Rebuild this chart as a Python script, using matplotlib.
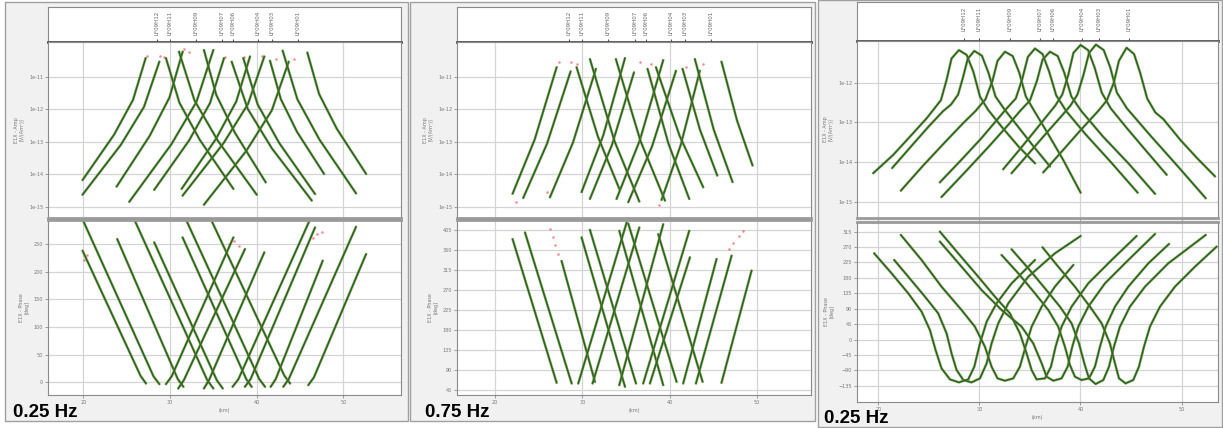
import numpy as np
import matplotlib
matplotlib.use("Agg")
import matplotlib.pyplot as plt
from matplotlib.patches import Rectangle

# ---- data ----
receivers = [28.5, 30.0, 33.0, 36.0, 37.3, 40.2, 41.8, 44.8]
rx_names = ["LF09H12", "LF09H11", "LF09H09", "LF09H07", "LF09H06", "LF09H04", "LF09H03", "LF09H01"]
freq_labels = ["0.25 Hz", "0.75 Hz", "0.25 Hz"]

# panel 1 (0.25 Hz), amplitude branches, log10 values
p1_amp_left_x = [[19.92, 23.56, 25.74, 27.19], [19.92, 24.35, 27.0, 28.77], [23.85, 27.66, 29.94, 31.46],
                 [25.31, 30.16, 33.06, 35.0], [28.19, 32.21, 34.62, 36.23], [31.35, 35.29, 37.65, 39.23],
                 [31.46, 36.17, 39.0, 40.88], [33.92, 38.81, 41.74, 43.69]]
p1_amp_left_y = [[-14.18, -12.78, -11.71, -10.43], [-14.63, -13.09, -11.93, -10.54], [-14.38, -12.82, -11.64, -10.23],
                 [-14.85, -13.08, -11.77, -10.18], [-14.48, -12.96, -11.81, -10.43], [-14.45, -12.92, -11.76, -10.38],
                 [-14.66, -13.05, -11.84, -10.38], [-14.94, -13.28, -12.04, -10.54]]
p1_amp_right_x = [[29.54, 31.09, 33.43, 37.31], [31.04, 32.83, 35.52, 40.0], [33.92, 35.34, 37.48, 41.04],
                  [37.12, 38.97, 41.74, 46.35], [38.46, 40.11, 42.6, 46.73], [41.54, 42.79, 44.66, 47.77],
                  [43.0, 44.69, 47.23, 51.46], [45.85, 47.2, 49.24, 52.62]]
p1_amp_right_y = [[-10.43, -11.80, -12.94, -14.45], [-10.23, -11.73, -12.97, -14.63], [-10.18, -11.56, -12.72, -14.25],
                  [-10.54, -11.99, -13.20, -14.81], [-10.43, -11.85, -13.04, -14.61], [-10.51, -11.69, -12.70, -13.99],
                  [-10.2, -11.69, -12.93, -14.59], [-10.26, -11.53, -12.60, -13.99]]
p1_amp_extra_x = [27.4, 28.9, 29.3, 31.6, 32.2, 36.4, 38.5, 40.6, 42.2, 44.3]
p1_amp_extra_y = [-10.35, -10.35, -10.40, -10.15, -10.25, -10.40, -10.40, -10.35, -10.45, -10.45]
p1_ph_left_x = [[19.92, 26.6, 27.23], [20.0, 28.1, 28.77], [23.92, 30.9, 31.54], [25.96, 34.3, 35.0],
                [28.19, 35.4, 36.08], [31.46, 38.8, 39.42], [31.92, 40.3, 40.96], [34.81, 43.2, 43.85]]
p1_ph_left_y = [[238.0, 12.0, -1.8], [292.0, 11.0, -3.0], [259.0, 6.0, -7.8], [292.0, 4.0, -10.8],
                [253.0, 4.0, -10.8], [262.0, 6.0, -7.8], [292.0, 6.0, -7.8], [292.0, 12.0, -1.8]]
p1_ph_right_x = [[29.54, 30.2, 37.31], [30.96, 31.6, 38.65], [33.92, 34.5, 40.88], [37.23, 37.9, 46.08],
                 [38.65, 39.3, 46.73], [41.62, 42.2, 47.62], [43.08, 43.7, 51.46], [45.96, 46.6, 52.62]]
p1_ph_right_y = [[-3.0, 11.0, 262.0], [-10.8, 4.0, 241.0], [-10.8, 4.0, 235.0], [-7.8, 6.0, 292.0],
                 [-7.8, 6.0, 280.0], [-7.8, 6.0, 220.0], [-7.8, 6.0, 281.2], [-4.8, 9.0, 232.0]]
p1_ph_extra_x = [20.1, 20.4, 36.8, 37.4, 38.0, 46.5, 47.0, 47.5]
p1_ph_extra_y = [222.0, 230.0, 250.0, 256.0, 246.0, 262.0, 268.0, 272.0]

# panel 2 (0.75 Hz)
p2_amp_left_x = [[22.02, 24.54, 27.06], [23.24, 25.95, 28.66], [26.30, 28.93, 31.56], [29.92, 32.41, 34.89],
                 [30.88, 33.40, 35.92], [33.93, 36.60, 39.27], [35.27, 38.00, 40.73], [39.08, 41.28, 43.47]]
p2_amp_left_y = [[-14.60, -12.94, -10.71], [-14.73, -13.07, -10.84], [-14.71, -13.03, -10.76], [-14.55, -12.80, -10.43],
                 [-14.76, -13.10, -10.87], [-14.76, -12.95, -10.49], [-14.86, -13.14, -10.82], [-14.79, -13.10, -10.82]]
p2_amp_right_x = [[29.35, 31.80, 34.24], [30.88, 33.70, 36.53], [33.85, 36.66, 39.47], [37.48, 39.87, 42.25],
                  [38.44, 41.15, 43.85], [41.49, 43.48, 45.46], [42.90, 45.06, 47.21], [45.95, 47.73, 49.50]]
p2_amp_right_y = [[-10.71, -12.85, -14.45], [-10.46, -12.99, -14.84], [-10.46, -12.97, -14.81], [-10.76, -13.06, -14.76],
                  [-10.71, -12.82, -14.40], [-10.76, -12.63, -14.04], [-10.46, -12.63, -14.24], [-10.54, -12.35, -13.73]]
p2_amp_extra_x = [22.4, 26.0, 27.3, 28.7, 29.4, 36.6, 37.9, 38.8, 41.9, 43.8]
p2_amp_extra_y = [-14.85, -14.55, -10.55, -10.55, -10.60, -10.55, -10.60, -14.95, -10.70, -10.60]
p2_ph_left_x = [[22.02, 27.06], [23.44, 28.78], [27.63, 31.45], [29.92, 34.89],
                [30.88, 36.15], [34.24, 39.27], [35.27, 40.80], [38.70, 43.78]]
p2_ph_left_y = [[384.2, 62.1], [399.0, 60.6], [335.2, 64.3], [387.9, 53.2],
                [405.0, 60.6], [402.8, 56.9], [419.1, 64.3], [395.3, 64.3]]
p2_ph_right_x = [[29.54, 35.08], [31.18, 36.53], [34.24, 39.27], [36.98, 42.25],
                 [37.75, 42.33], [41.56, 45.38], [43.02, 47.10], [45.95, 49.39]]
p2_ph_right_y = [[60.6, 421.4], [60.6, 410.2], [56.9, 417.6], [60.6, 402.8],
                 [60.6, 343.3], [60.6, 339.5], [60.6, 347.0], [62.1, 313.5]]
# observed points left beyond the model ends (0.75 Hz phase)
p2_ph_extra_x = [26.3, 26.6, 26.9, 27.2, 36.0, 46.8, 47.3, 48.0, 48.4]
p2_ph_extra_y = [408.0, 390.0, 372.0, 352.0, 380.0, 362.0, 375.0, 392.0, 402.0]

# panel 3 (0.25 Hz, second survey), one curve per receiver
p3_amp_x = [
    [19.51, 21.48, 23.46, 24.78, 25.43, 26.20, 26.76, 27.25, 27.98, 28.74, 29.40, 30.06, 30.88, 32.20, 33.88, 35.50],
    [21.38, 23.2, 25.0, 26.4, 27.2, 27.9, 28.4, 28.85, 29.50, 30.25, 30.9, 31.6, 32.5, 33.8, 35.4, 36.98],
    [22.24, 24.4, 26.6, 28.4, 29.6, 30.6, 31.3, 31.8, 32.53, 33.3, 33.95, 34.6, 35.4, 36.7, 38.3, 40.01],
    [26.10, 28.2, 30.2, 31.8, 32.7, 33.6, 34.25, 34.8, 35.50, 36.25, 36.9, 37.6, 38.6, 40.5, 43.0, 45.65],
    [26.26, 28.6, 30.9, 32.9, 34.0, 35.0, 35.7, 36.25, 36.98, 37.75, 38.4, 39.1, 40.1, 42.2, 44.8, 47.37],
    [32.36, 34.0, 35.6, 36.8, 37.5, 38.2, 38.8, 39.3, 40.01, 40.75, 41.4, 42.1, 43.0, 44.6, 46.5, 48.52],
    [33.19, 35.0, 36.8, 38.2, 39.0, 39.7, 40.3, 40.85, 41.53, 42.3, 42.95, 43.6, 44.6, 46.8, 49.6, 52.38],
    [36.32, 38.2, 40.0, 41.8, 42.6, 43.3, 43.8, 44.56, 45.3, 45.9, 46.6, 47.4, 48.2, 49.9, 51.6, 53.30],
]
p3_amp_y = [
    [-14.28, -13.82, -13.27, -12.90, -12.69, -12.44, -11.93, -11.39, -11.18, -11.30, -11.72, -12.35, -12.69, -13.11, -13.61, -14.03],
    [-14.15, -13.62, -13.10, -12.72, -12.55, -12.30, -11.85, -11.40, -11.20, -11.32, -11.75, -12.35, -12.68, -13.10, -13.62, -14.11],
    [-14.72, -14.10, -13.50, -13.02, -12.72, -12.42, -11.95, -11.45, -11.22, -11.33, -11.75, -12.35, -12.70, -13.25, -13.95, -14.77],
    [-14.51, -13.95, -13.40, -12.92, -12.65, -12.40, -11.90, -11.35, -11.14, -11.28, -11.72, -12.32, -12.72, -13.30, -14.00, -14.77],
    [-14.88, -14.25, -13.62, -13.05, -12.72, -12.45, -11.95, -11.42, -11.22, -11.33, -11.75, -12.35, -12.72, -13.35, -14.05, -14.80],
    [-14.18, -13.68, -13.18, -12.80, -12.58, -12.30, -11.80, -11.25, -11.05, -11.18, -11.62, -12.25, -12.65, -13.15, -13.72, -14.32],
    [-14.28, -13.75, -13.22, -12.82, -12.58, -12.30, -11.80, -11.25, -11.04, -11.18, -11.62, -12.25, -12.65, -13.30, -14.10, -14.91],
    [-14.26, -13.72, -13.20, -12.70, -12.45, -12.00, -11.45, -11.12, -11.28, -11.75, -12.40, -12.75, -12.92, -13.45, -13.92, -14.36],
]
p3_ph_x = [
    [19.60, 21.32, 22.97, 24.29, 25.11, 25.67, 26.26, 27.09, 27.98, 28.90, 29.50, 30.06, 30.72, 31.70, 33.19, 35.50],
    [21.58, 22.97, 24.62, 25.93, 26.76, 27.25, 27.75, 28.41, 29.23, 30.06, 30.72, 31.21, 31.87, 32.86, 34.84, 37.47, 40.01],
    [22.24, 24.29, 26.26, 28.24, 29.56, 30.55, 31.21, 31.80, 32.53, 33.35, 34.01, 34.57, 35.17, 36.16, 37.47, 39.29],
    [26.10, 27.91, 29.89, 31.54, 33.02, 34.01, 34.67, 35.17, 35.66, 36.49, 37.08, 37.54, 38.13, 39.12, 40.77, 43.08, 45.55],
    [26.10, 28.24, 30.22, 32.20, 34.18, 35.33, 36.16, 36.65, 37.31, 38.13, 38.73, 39.19, 39.78, 40.77, 42.42, 44.73, 47.37],
    [32.20, 33.85, 35.50, 36.82, 37.80, 38.46, 38.96, 39.45, 40.11, 40.84, 41.43, 41.93, 42.49, 43.41, 44.73, 46.71, 48.75],
    [33.19, 34.84, 36.49, 37.97, 39.12, 39.85, 40.38, 40.84, 41.50, 42.26, 42.82, 43.31, 43.90, 44.89, 46.38, 48.68, 52.38],
    [36.25, 37.80, 39.45, 40.94, 42.09, 42.91, 43.41, 43.81, 44.46, 45.22, 45.78, 46.28, 46.87, 47.86, 49.34, 51.32, 53.46],
]
p3_ph_y = [
    [251.7, 193.3, 134.8, 81.2, 27.7, -30.8, -84.3, -116.5, -125.2, -116.5, -79.5, -11.3, 52.0, 105.6, 164.0, 232.2],
    [232.2, 183.5, 125.1, 76.4, 17.9, -40.5, -89.2, -118.4, -125.2, -113.6, -69.7, -11.3, 47.2, 105.6, 183.5, 251.7, 302.3],
    [305.3, 232.2, 154.3, 86.1, 37.4, -21.0, -79.5, -113.6, -120.4, -113.6, -79.5, -21.0, 37.4, 95.9, 154.3, 217.6],
    [315.0, 251.7, 183.5, 125.1, 76.4, 17.9, -40.5, -89.2, -116.5, -113.6, -79.5, -21.0, 37.4, 95.9, 164.0, 232.2, 302.3],
    [285.8, 212.7, 144.6, 86.1, 37.4, -11.3, -69.7, -108.7, -120.4, -113.6, -79.5, -21.0, 37.4, 95.9, 164.0, 232.2, 308.2],
    [246.8, 193.3, 134.8, 86.1, 37.4, -21.0, -74.6, -108.7, -118.4, -113.6, -79.5, -21.0, 37.4, 95.9, 154.3, 222.5, 279.0],
    [263.4, 207.9, 149.4, 95.9, 47.2, -11.3, -69.7, -113.6, -130.1, -118.4, -79.5, -21.0, 37.4, 95.9, 154.3, 222.5, 305.3],
    [269.2, 212.7, 154.3, 95.9, 47.2, -11.3, -69.7, -113.6, -128.2, -118.4, -79.5, -21.0, 37.4, 95.9, 154.3, 212.7, 271.2],
]

amp_ticks_12 = [-11, -12, -13, -14, -15]
amp_ticks_3 = [-12, -13, -14, -15]
ph_ticks_1 = [0, 50, 100, 150, 200, 250]
ph_ticks_2 = [45, 90, 135, 180, 225, 270, 315, 360, 405]
ph_ticks_3 = [-135, -90, -45, 0, 45, 90, 135, 180, 225, 270, 315]
km_ticks = [20, 30, 40, 50]

W, H = 1223, 428
GREEN = "#2c962c"
CORE = "#1e4e1e"
RED = "#f04848"
GRID = "#d4d4d4"
TXT = "#777777"


def box(l, t, r, b):
    return [l / W, 1 - b / H, (r - l) / W, (b - t) / H]


def style(ax):
    for s in ax.spines.values():
        s.set_color("#8a8a8a")
        s.set_linewidth(0.8)
    ax.tick_params(labelsize=3.5, colors=TXT, length=2, width=0.5, pad=1.5)
    ax.grid(True, color=GRID, lw=0.9)
    ax.set_axisbelow(True)


def curve(ax, xs, ys, log=False):
    ys = np.power(10.0, ys) if log else np.asarray(ys)
    ax.plot(xs, ys, color=RED, lw=2.0, alpha=0.45, solid_capstyle="round")
    ax.plot(xs, ys, color=GREEN, lw=1.4)
    ax.plot(xs, ys, color=CORE, lw=0.5)


def extras(ax, xs, ys, log=False):
    ys = np.power(10.0, ys) if log else np.asarray(ys)
    ax.plot(xs, ys, "o", ms=1.8, color=RED, alpha=0.65, mec="none")


fig = plt.figure(figsize=(W / 100, H / 100), dpi=100)
fig.patch.set_facecolor("white")

panels = [
    dict(frame=(5, 2, 408, 421), x0=48, x1=401, strip=(7, 42), amp=(42, 218), ph=(220, 395),
         xlim=(15.93, 56.65), alim=(-15.35, -9.93), plim=(-22.8, 293.7), aticks=amp_ticks_12,
         pticks=ph_ticks_1, lab=(13, 417)),
    dict(frame=(410, 2, 815, 421), x0=457, x1=811, strip=(7, 42), amp=(42, 218), ph=(220, 395),
         xlim=(15.65, 56.2), alim=(-15.35, -9.93), plim=(34.5, 427.3), aticks=amp_ticks_12,
         pticks=ph_ticks_2, lab=(425, 417)),
    dict(frame=(818, 0, 1222, 427), x0=857, x1=1218, strip=(2, 41), amp=(41, 218), ph=(222, 402),
         xlim=(17.9, 53.6), alim=(-15.41, -10.95), plim=(-182.6, 343.3), aticks=amp_ticks_3,
         pticks=ph_ticks_3, lab=(824, 423)),
]

for i, p in enumerate(panels):
    l, t, r, b = p["frame"]
    fig.patches.append(Rectangle((l / W, 1 - b / H), (r - l) / W, (b - t) / H, transform=fig.transFigure,
                                 facecolor="#f1f1f1", edgecolor="#a0a0a0", lw=1.0, zorder=-10))

    # receiver strip
    st = fig.add_axes(box(p["x0"], p["strip"][0], p["x1"], p["strip"][1]))
    st.set_facecolor("white")
    st.set_xlim(p["xlim"])
    st.set_ylim(0, 1)
    st.set_yticks([])
    st.set_xticks(receivers)
    st.set_xticklabels([])
    st.tick_params(axis="x", direction="in", length=2, width=0.8, colors="#555555")
    for s in st.spines.values():
        s.set_color("#8a8a8a")
        s.set_linewidth(0.8)
    st.spines["bottom"].set_color("#505050")
    st.spines["bottom"].set_linewidth(2.0)
    for xr, nm in zip(receivers, rx_names):
        st.text(xr, 0.88, nm, rotation=90, ha="center", va="top", fontsize=4, color="#666666")

    # amplitude
    aa = fig.add_axes(box(p["x0"], p["amp"][0], p["x1"], p["amp"][1]))
    style(aa)
    aa.set_yscale("log")
    aa.set_xlim(p["xlim"])
    aa.set_ylim(10.0 ** p["alim"][0], 10.0 ** p["alim"][1])
    aa.set_yticks([10.0 ** k for k in p["aticks"]])
    aa.set_yticklabels(["1e%d" % k for k in p["aticks"]])
    aa.minorticks_off()
    aa.set_xticks(km_ticks)
    aa.set_xticklabels([])
    aa.spines["bottom"].set_linewidth(2.0)
    aa.spines["bottom"].set_color("#9a9a9a")
    aa.set_ylabel("E1X - Amp\n[V/(Am²)]", fontsize=3.5, color=TXT, labelpad=3)

    ph = fig.add_axes(box(p["x0"], p["ph"][0], p["x1"], p["ph"][1]))
    style(ph)
    ph.set_xlim(p["xlim"])
    ph.set_ylim(p["plim"])
    ph.set_yticks(p["pticks"])
    ph.set_xticks(km_ticks)
    ph.spines["top"].set_linewidth(2.0)
    ph.spines["top"].set_color("#9a9a9a")
    ph.set_xlabel("(km)", fontsize=3.5, color=TXT, labelpad=2)
    ph.set_ylabel("E1X - Phase\n[deg]", fontsize=3.5, color=TXT, labelpad=3)

    if i == 0:
        sets_a = [(p1_amp_left_x, p1_amp_left_y), (p1_amp_right_x, p1_amp_right_y)]
        sets_p = [(p1_ph_left_x, p1_ph_left_y), (p1_ph_right_x, p1_ph_right_y)]
        extras(aa, p1_amp_extra_x, p1_amp_extra_y, log=True)
        extras(ph, p1_ph_extra_x, p1_ph_extra_y)
    elif i == 1:
        sets_a = [(p2_amp_left_x, p2_amp_left_y), (p2_amp_right_x, p2_amp_right_y)]
        sets_p = [(p2_ph_left_x, p2_ph_left_y), (p2_ph_right_x, p2_ph_right_y)]
        extras(aa, p2_amp_extra_x, p2_amp_extra_y, log=True)
        extras(ph, p2_ph_extra_x, p2_ph_extra_y)
    else:
        sets_a = [(p3_amp_x, p3_amp_y)]
        sets_p = [(p3_ph_x, p3_ph_y)]
    for xs_list, ys_list in sets_a:
        for xs, ys in zip(xs_list, ys_list):
            curve(aa, xs, ys, log=True)
    for xs_list, ys_list in sets_p:
        for xs, ys in zip(xs_list, ys_list):
            curve(ph, xs, ys)

    fig.text(p["lab"][0] / W, 1 - p["lab"][1] / H, freq_labels[i], fontsize=13.5, fontweight="bold",
             family=["Liberation Sans Narrow", "Liberation Sans", "DejaVu Sans"], va="baseline", ha="left")

fig.savefig("out.png", dpi=100, facecolor="white")
